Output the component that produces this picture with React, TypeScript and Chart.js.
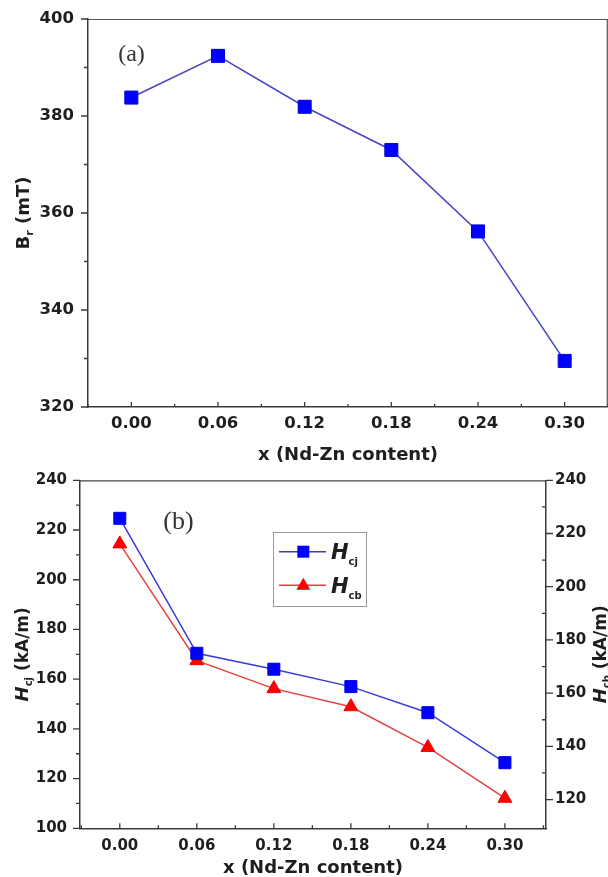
import React, { useEffect, useRef } from 'react';
import { Chart, registerables } from 'chart.js';
Chart.register(...registerables);

// ---------- data ----------
const xValues = [0, 0.06, 0.12, 0.18, 0.24, 0.3];
const xTickLabels = ['0.00', '0.06', '0.12', '0.18', '0.24', '0.30'];
const xMinorTicks = [-0.03, 0.03, 0.09, 0.15, 0.21, 0.27, 0.33];

const brValues = [383.8, 392.4, 381.9, 373.0, 356.2, 329.5];
const brTicks = [320, 340, 360, 380, 400];
const brMinorTicks = [330, 350, 370, 390];

const hcjValues = [224.7, 170.4, 164.0, 157.0, 146.5, 126.4];
const hcbValues = [216.1, 172.2, 161.7, 154.9, 139.6, 120.5];
const hcjTicks = [100, 120, 140, 160, 180, 200, 220, 240];
const hcjMinorTicks = [110, 130, 150, 170, 190, 210, 230];
const hcbTicks = [120, 140, 160, 180, 200, 220, 240];
const hcbMinorTicks = [130, 150, 170, 190, 210, 230];

const FONT = 'DejaVu Sans';
const AXIS = '#3a3a3a';
const TEXT = '#1e1e1e';

type Part = { text: string; font: string; dy?: number };

function drawRich(ctx: CanvasRenderingContext2D, parts: Part[], x: number, y: number, rot: number, align: 'center' | 'left' = 'center', base = 6.5) {
  ctx.save();
  ctx.translate(x, y);
  ctx.rotate(rot);
  ctx.textAlign = 'left';
  ctx.textBaseline = 'alphabetic';
  ctx.fillStyle = TEXT;
  const widths: number[] = [];
  let total = 0;
  parts.forEach((p) => {
    ctx.font = p.font;
    const w = ctx.measureText(p.text).width;
    widths.push(w);
    total += w;
  });
  let cx = align === 'center' ? -total / 2 : 0;
  parts.forEach((p, i) => {
    ctx.font = p.font;
    ctx.fillText(p.text, cx, base + (p.dy || 0));
    cx += widths[i];
  });
  ctx.restore();
}

function drawTickMarks(ctx: CanvasRenderingContext2D, scale: any, values: number[], len: number, dir: 'in' | 'out') {
  ctx.save();
  ctx.strokeStyle = AXIS;
  ctx.lineWidth = 1.3;
  ctx.beginPath();
  values.forEach((v) => {
    if (v < scale.min - 1e-9 || v > scale.max + 1e-9) return;
    const p = scale.getPixelForValue(v);
    if (scale.isHorizontal()) {
      const y0 = scale.top;
      const d = dir === 'in' ? -len : len;
      ctx.moveTo(p, y0);
      ctx.lineTo(p, y0 + d);
    } else {
      const isRight = scale.position === 'right';
      const x0 = isRight ? scale.left : scale.right;
      const out = isRight ? 1 : -1;
      const d = dir === 'out' ? out * len : -out * len;
      ctx.moveTo(x0, p);
      ctx.lineTo(x0 + d, p);
    }
  });
  ctx.stroke();
  ctx.restore();
}

function fixedTicks(values: number[]) {
  return (s: any) => {
    s.ticks = values.map((v) => ({ value: v }));
  };
}

function fitTo(size: number) {
  return (s: any) => {
    if (s.isHorizontal()) s.height = size;
    else s.width = size;
    s.paddingLeft = 0;
    s.paddingRight = 0;
    s.paddingTop = 0;
    s.paddingBottom = 0;
  };
}

function axisBase(extra: any) {
  return {
    type: 'linear',
    grid: { display: true, drawOnChartArea: false, drawTicks: false },
    border: { display: true, color: AXIS, width: 1.5 },
    ...extra,
  };
}

function TopChart() {
  const ref = useRef<HTMLCanvasElement>(null);
  useEffect(() => {
    const decor = {
      id: 'decorTop',
      afterDraw(chart: any) {
        const ctx = chart.ctx as CanvasRenderingContext2D;
        const a = chart.chartArea;
        const sx = chart.scales.x;
        const sy = chart.scales.y;
        ctx.save();
        ctx.strokeStyle = '#555';
        ctx.lineWidth = 1.2;
        ctx.beginPath();
        ctx.moveTo(a.left, a.top + 0.5);
        ctx.lineTo(a.right - 0.7, a.top + 0.5);
        ctx.lineTo(a.right - 0.7, a.bottom);
        ctx.stroke();
        ctx.restore();
        drawTickMarks(ctx, sy, brTicks, 7, 'out');
        drawTickMarks(ctx, sy, brMinorTicks, 4, 'out');
        drawTickMarks(ctx, sx, xValues, 5, 'in');
        drawTickMarks(ctx, sx, xMinorTicks, 3, 'in');
        // panel label
        ctx.save();
        ctx.fillStyle = '#333';
        ctx.font = '24px "Liberation Serif"';
        ctx.textAlign = 'center';
        ctx.textBaseline = 'middle';
        ctx.fillText('(a)', 131.5, 55);
        ctx.restore();
        // x title
        drawRich(ctx, [{ text: 'x (Nd-Zn content)', font: `bold 18px "${FONT}"` }], (a.left + a.right) / 2, 453, 0);
        // y title
        drawRich(
          ctx,
          [
            { text: 'B', font: `bold 18px "${FONT}"` },
            { text: 'r', font: `bold 11px "${FONT}"`, dy: 4 },
            { text: ' (mT)', font: `bold 18px "${FONT}"` },
          ],
          22,
          (a.top + a.bottom) / 2,
          -Math.PI / 2
        );
      },
    };
    const chart = new Chart(ref.current!, {
      type: 'line',
      data: {
        datasets: [
          {
            data: xValues.map((x, i) => ({ x, y: brValues[i] })),
            borderColor: '#4848c4',
            borderWidth: 1.6,
            backgroundColor: '#0000ff',
            pointStyle: 'rect',
            pointRadius: 9.2,
            pointBorderColor: '#0000e0',
            pointBorderWidth: 1,
            pointBackgroundColor: '#0000ff',
            tension: 0,
            clip: false,
          },
        ],
      },
      options: {
        animation: false,
        responsive: false,
        devicePixelRatio: 1,
        layout: { autoPadding: false, padding: { top: 19, right: 0, left: 0, bottom: 0 } },
        plugins: { legend: { display: false }, tooltip: { enabled: false } },
        scales: {
          x: axisBase({
            min: -0.03,
            max: 0.33,
            afterBuildTicks: fixedTicks(xValues),
            afterFit: fitTo(63),
            ticks: {
              callback: (_v: any, i: number) => xTickLabels[i],
              font: { family: FONT, size: 16.5, weight: 'bold' },
              color: TEXT,
              padding: 7,
              maxRotation: 0,
              autoSkip: false,
            },
          }),
          y: axisBase({
            min: 320,
            max: 400,
            afterBuildTicks: fixedTicks(brTicks),
            afterFit: fitTo(88),
            ticks: {
              font: { family: FONT, size: 16.5, weight: 'bold' },
              color: TEXT,
              padding: 14,
            },
          }),
        },
      } as any,
      plugins: [decor],
    });
    return () => chart.destroy();
  }, []);
  return <canvas ref={ref} width={608} height={470} style={{ position: 'absolute', left: 0, top: 0 }} />;
}

function BottomChart() {
  const ref = useRef<HTMLCanvasElement>(null);
  useEffect(() => {
    const decor = {
      id: 'decorBottom',
      afterDraw(chart: any) {
        const ctx = chart.ctx as CanvasRenderingContext2D;
        const a = chart.chartArea;
        const sx = chart.scales.x;
        const sy = chart.scales.y;
        const sy1 = chart.scales.y1;
        ctx.save();
        ctx.strokeStyle = '#444';
        ctx.lineWidth = 1.2;
        ctx.beginPath();
        ctx.moveTo(a.left, a.top + 0.5);
        ctx.lineTo(a.right, a.top + 0.5);
        ctx.stroke();
        ctx.restore();
        drawTickMarks(ctx, sy, hcjTicks, 7, 'out');
        drawTickMarks(ctx, sy, hcjMinorTicks, 4, 'out');
        drawTickMarks(ctx, sy1, hcbTicks, 7, 'out');
        drawTickMarks(ctx, sy1, hcbMinorTicks, 4, 'in');
        drawTickMarks(ctx, sx, xValues, 5, 'in');
        drawTickMarks(ctx, sx, xMinorTicks, 3, 'in');
        // panel label
        ctx.save();
        ctx.fillStyle = '#333';
        ctx.font = '26px "Liberation Serif"';
        ctx.textAlign = 'center';
        ctx.textBaseline = 'middle';
        ctx.fillText('(b)', 178.5, 52);
        ctx.restore();
        // legend
        ctx.save();
        ctx.strokeStyle = '#9a9a9a';
        ctx.lineWidth = 1;
        ctx.strokeRect(273.5, 62.5, 93, 74);
        const rows = [
          { y: 81.7, color: '#3a3ad8', fill: '#0000ff', shape: 'rect', sub: 'cj' },
          { y: 115.3, color: '#e84040', fill: '#ff0000', shape: 'tri', sub: 'cb' },
        ];
        rows.forEach((r) => {
          ctx.strokeStyle = r.color;
          ctx.lineWidth = 1.5;
          ctx.beginPath();
          ctx.moveTo(279, r.y);
          ctx.lineTo(326, r.y);
          ctx.stroke();
          ctx.fillStyle = r.fill;
          if (r.shape === 'rect') {
            ctx.fillRect(303.3 - 6, r.y - 6, 12, 12);
          } else {
            ctx.beginPath();
            ctx.moveTo(303.3, r.y - 7.5);
            ctx.lineTo(303.3 + 7, r.y + 4.5);
            ctx.lineTo(303.3 - 7, r.y + 4.5);
            ctx.closePath();
            ctx.fill();
          }
          drawRich(
            ctx,
            [
              { text: 'H', font: `italic bold 21px "${FONT}"` },
              { text: r.sub, font: `bold 10px "${FONT}"`, dy: 6 },
            ],
            331,
            r.y,
            0,
            'left',
            7.5
          );
        });
        ctx.restore();
        // x title
        drawRich(ctx, [{ text: 'x (Nd-Zn content)', font: `bold 18px "${FONT}"` }], (a.left + a.right) / 2, 396.7, 0);
        // y titles
        const cy = (a.top + a.bottom) / 2;
        drawRich(
          ctx,
          [
            { text: 'H', font: `italic bold 18px "${FONT}"` },
            { text: 'cj', font: `bold 10px "${FONT}"`, dy: 4 },
            { text: ' (kA/m)', font: `bold 17px "${FONT}"` },
          ],
          21,
          cy,
          -Math.PI / 2
        );
        drawRich(
          ctx,
          [
            { text: 'H', font: `italic bold 18px "${FONT}"` },
            { text: 'cb', font: `bold 10px "${FONT}"`, dy: 4 },
            { text: ' (kA/m)', font: `bold 17px "${FONT}"` },
          ],
          599,
          cy,
          -Math.PI / 2
        );
      },
    };
    const chart = new Chart(ref.current!, {
      type: 'line',
      data: {
        datasets: [
          {
            label: 'Hcj',
            yAxisID: 'y',
            data: xValues.map((x, i) => ({ x, y: hcjValues[i] })),
            borderColor: '#3a3ad8',
            borderWidth: 1.5,
            backgroundColor: '#0000ff',
            pointStyle: 'rect',
            pointRadius: 8.5,
            pointBorderColor: '#0000e0',
            pointBorderWidth: 1,
            pointBackgroundColor: '#0000ff',
            tension: 0,
            clip: false,
          },
          {
            label: 'Hcb',
            yAxisID: 'y1',
            data: xValues.map((x, i) => ({ x, y: hcbValues[i] })),
            borderColor: '#e84040',
            borderWidth: 1.5,
            backgroundColor: '#ff0000',
            pointStyle: 'triangle',
            pointRadius: 8,
            pointBorderColor: '#f00000',
            pointBorderWidth: 1,
            pointBackgroundColor: '#ff0000',
            tension: 0,
            clip: false,
          },
        ],
      },
      options: {
        animation: false,
        responsive: false,
        devicePixelRatio: 1,
        layout: { autoPadding: false, padding: { top: 10.3, right: 0, left: 0, bottom: 0 } },
        plugins: { legend: { display: false }, tooltip: { enabled: false } },
        scales: {
          x: axisBase({
            min: -0.031,
            max: 0.332,
            afterBuildTicks: fixedTicks(xValues),
            afterFit: fitTo(48.7),
            ticks: {
              callback: (_v: any, i: number) => xTickLabels[i],
              font: { family: FONT, size: 15, weight: 'bold' },
              color: TEXT,
              padding: 9,
              maxRotation: 0,
              autoSkip: false,
            },
          }),
          y: axisBase({
            position: 'left',
            min: 100,
            max: 240,
            afterBuildTicks: fixedTicks(hcjTicks),
            afterFit: fitTo(80),
            ticks: {
              font: { family: FONT, size: 15, weight: 'bold' },
              color: TEXT,
              padding: 13,
            },
          }),
          y1: axisBase({
            position: 'right',
            min: 109.2,
            max: 240,
            afterBuildTicks: fixedTicks(hcbTicks),
            afterFit: fitTo(62),
            ticks: {
              font: { family: FONT, size: 15, weight: 'bold' },
              color: TEXT,
              padding: 9,
            },
          }),
        },
      } as any,
      plugins: [decor],
    });
    return () => chart.destroy();
  }, []);
  return <canvas ref={ref} width={608} height={407} style={{ position: 'absolute', left: 0, top: 470 }} />;
}

export default function App() {
  return (
    <div style={{ position: 'absolute', left: 0, top: 0, width: 608, height: 877, background: '#ffffff', overflow: 'hidden' }}>
      <TopChart />
      <BottomChart />
    </div>
  );
}
